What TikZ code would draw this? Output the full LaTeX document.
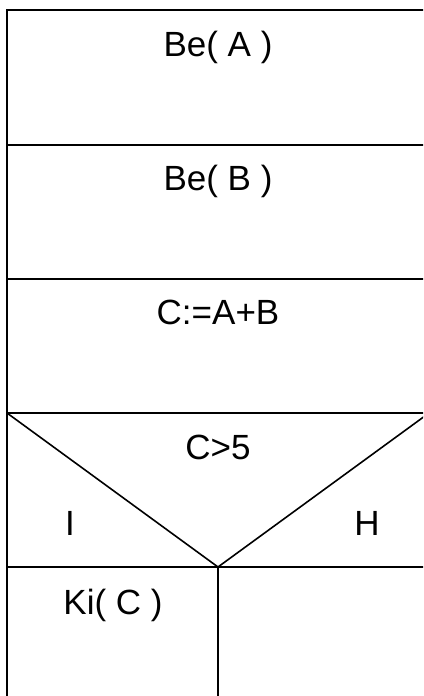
\documentclass[tikz,border=0pt]{standalone}
\usepackage{fontspec}
\setmainfont{Liberation Sans}
\tikzset{
  nsline/.style={line width=1.6pt, draw=black},
  nstext/.style={font=\fontsize{35}{40}\selectfont, inner sep=0pt, anchor=base},
}
\begin{document}
\begin{tikzpicture}[x=1pt,y=-1pt]
  \useasboundingbox (0,0) rectangle (423,696);
  \clip (0,0) rectangle (423,696);
  % outer frame and rows
  \draw[nsline] (7,700) -- (7,10) -- (430,10);
  \draw[nsline] (7,145) -- (430,145);
  \draw[nsline] (7,279) -- (430,279);
  \draw[nsline] (7,413) -- (430,413);
  \draw[nsline] (7,567) -- (430,567);
  \draw[nsline] (429,10) -- (429,700);
  % branch triangle
  \coordinate (tip) at (218,567);
  \draw[nsline] (7,413) -- (tip) -- (429,413);
  \draw[nsline] (tip) -- (218,700);
  % texts
  \node[nstext] (inA) at (218,56) {Be( A )};
  \node[nstext] (inB) at (218,190) {Be( B )};
  \node[nstext] (sum) at (218,324) {C:=A+B};
  \node[nstext] (cond) at (218,459) {C>5};
  \node[nstext] (yes) at (70,535) {I};
  \node[nstext] (no) at (367,535) {H};
  \node[nstext] (out) at (113,614) {Ki( C )};
\end{tikzpicture}
\end{document}
